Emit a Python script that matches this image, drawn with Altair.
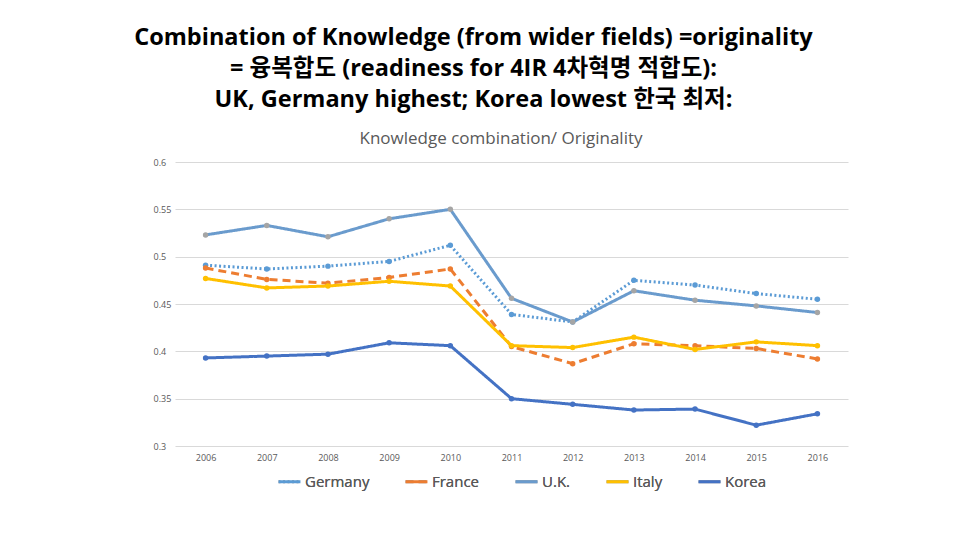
import altair as alt
import pandas as pd

years = [2006, 2007, 2008, 2009, 2010, 2011, 2012, 2013, 2014, 2015, 2016]
germany = [0.491, 0.487, 0.490, 0.495, 0.512, 0.439, 0.431, 0.475, 0.470, 0.461, 0.455]
france = [0.488, 0.476, 0.472, 0.478, 0.487, 0.405, 0.387, 0.408, 0.406, 0.403, 0.392]
uk = [0.523, 0.533, 0.521, 0.540, 0.550, 0.456, 0.431, 0.464, 0.454, 0.448, 0.441]
italy = [0.477, 0.467, 0.469, 0.474, 0.469, 0.406, 0.404, 0.415, 0.402, 0.410, 0.406]
korea = [0.393, 0.395, 0.397, 0.409, 0.406, 0.350, 0.344, 0.338, 0.339, 0.322, 0.334]

series_names = ["Germany", "France", "U.K.", "Italy", "Korea"]
series_values = [germany, france, uk, italy, korea]
line_colors = ["#5B9BD5", "#ED7D31", "#6A9BCD", "#FFC000", "#4472C4"]
marker_colors = ["#5B9BD5", "#ED7D31", "#A5A5A5", "#FFC000", "#4472C4"]
dashes = [[2, 2.5], [8, 5], [1, 0], [1, 0], [1, 0]]

rows = []
for name, vals in zip(series_names, series_values):
    for y, v in zip(years, vals):
        rows.append({"Year": str(y), "Country": name, "Value": v})
df = pd.DataFrame(rows)

title_lines = [
    "Combination of Knowledge (from wider fields) =originality",
    "= 융복합도 (readiness for 4IR 4차혁명 적합도):",
    "UK, Germany highest; Korea lowest 한국 최저:",
]
subtitle_text = "Knowledge combination/ Originality"

x_enc = alt.X("Year:O", title=None, sort=[str(y) for y in years],
              scale=alt.Scale(type="point", padding=0.5),
              axis=alt.Axis(labelAngle=0, labelFontSize=9, labelColor="#595959",
                            labelPadding=7, ticks=False, domain=False, grid=False,
                            labelFont="Open Sans"))
y_enc = alt.Y("Value:Q", title=None,
              scale=alt.Scale(domain=[0.3, 0.6], nice=False, zero=False),
              axis=alt.Axis(values=[0.3, 0.35, 0.4, 0.45, 0.5, 0.55, 0.6], format=".2~f",
                            labelFontSize=9, labelColor="#595959", labelAlign="left",
                            labelPadding=22, ticks=False, tickSize=0, domain=False,
                            gridColor="#D9D9D9", gridWidth=1, labelFont="Open Sans"))

legend_cfg = alt.Legend(title=None, orient="none", direction="horizontal",
                        legendX=102, legendY=307, columns=5,
                        columnPadding=29, symbolType="stroke",
                        symbolSize=480, symbolStrokeWidth=3,
                        labelFontSize=15, labelColor="#595959",
                        labelFont="Open Sans", labelOffset=3)

lines = alt.Chart(df).mark_line(strokeWidth=3).encode(
    x=x_enc,
    y=y_enc,
    color=alt.Color("Country:N", sort=series_names,
                    scale=alt.Scale(domain=series_names, range=line_colors),
                    legend=legend_cfg),
    strokeDash=alt.StrokeDash("Country:N", sort=series_names,
                              scale=alt.Scale(domain=series_names, range=dashes),
                              legend=legend_cfg),
    order=alt.Order("Year:O"),
)

points = alt.Chart(df).mark_point(filled=True, size=30, opacity=1).encode(
    x=x_enc,
    y=y_enc,
    fill=alt.Fill("Country:N", sort=series_names,
                  scale=alt.Scale(domain=series_names, range=marker_colors),
                  legend=None),
)

sub = alt.Chart(pd.DataFrame({"t": [subtitle_text]})).mark_text(
    fontSize=17, color="#595959", font="Open Sans", align="center", baseline="middle"
).encode(text="t:N", x=alt.value(326), y=alt.value(-23))

chart = alt.layer(lines, points, sub).resolve_scale(
    color="independent", fill="independent"
).properties(
    width=673, height=284,
    padding={"left": 167, "top": 154, "right": 100, "bottom": 80},
    autosize=alt.AutoSizeParams(type="none"),
    title=alt.TitleParams(
        text=title_lines, anchor="middle", dx=-38, fontSize=23.5, fontWeight="bold",
        font="Open Sans, Noto Sans CJK KR", color="#000000", lineHeight=31, offset=19,
    ),
).configure(background="white", view=alt.ViewConfig(stroke=None))

chart.save("out.html", embed_options={"renderer": "svg", "actions": False})
